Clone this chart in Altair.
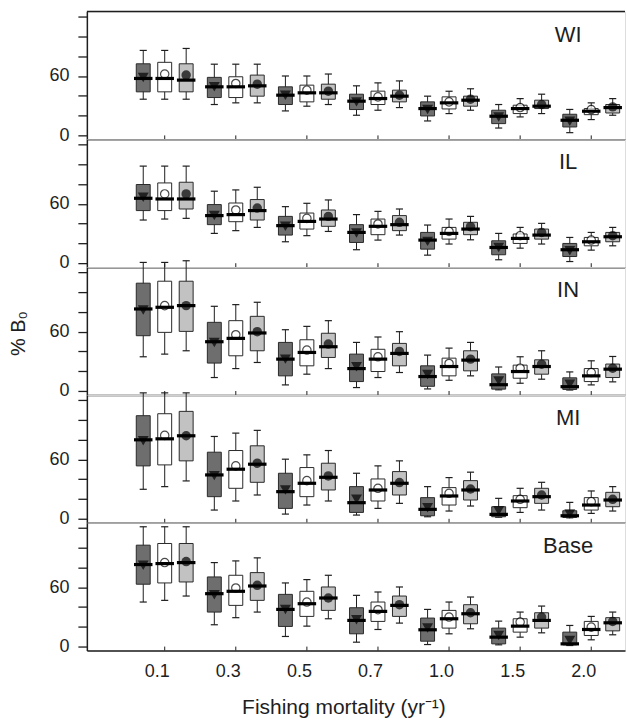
import altair as alt
import pandas as pd

PANELS = ["WI", "IL", "IN", "MI", "Base"]
F_LABELS = ["0.1", "0.3", "0.5", "0.7", "1.0", "1.5", "2.0"]
SERIES = ["dark", "open", "light"]
X_TITLE = "Fishing mortality (yr\u207b\u00b9)"
Y_TITLE = "% B\u2080"

# values per panel: 7 mortality groups x 3 series (dark, open, light)
WI_HIGH = [86, 86, 88, 72, 72, 72, 60, 60, 62, 50, 53, 55, 39.5, 44.5, 47, 31, 37, 41.5, 26, 32.7, 37]
WI_Q3 = [72.4, 73.9, 72.4, 58.6, 59.2, 60.9, 49, 50.7, 51.7, 41.5, 44.6, 45.6, 33.7, 38.8, 39.5, 25.2, 30.3, 35.4, 21.1, 26.9, 31]
WI_MED = [57.5, 57.5, 55.8, 49, 49, 50, 40.5, 42.9, 42.9, 34.4, 37.1, 39.5, 26.9, 32.7, 35.4, 19.1, 26.9, 29.3, 15, 24.2, 27.9]
WI_Q1 = [43.9, 43.9, 43.9, 38.1, 38.1, 39.5, 31, 33.7, 36.4, 25.9, 31, 33.7, 19.4, 26.5, 29.3, 11.6, 21.8, 26.9, 8.2, 20.7, 22.4]
WI_LOW = [36.4, 36.4, 36.4, 31, 32.7, 32.7, 24.5, 29.3, 31, 20.1, 25.2, 27.9, 14.3, 21.8, 25.2, 7.1, 18.4, 21.8, 2.4, 15.7, 20.1]
WI_MEAN = [58.5, 62, 60.9, 49, 52.4, 51.7, 40.5, 45.6, 44.6, 33.7, 38.8, 40.5, 25.9, 33.7, 36.4, 18.4, 27.9, 31, 14, 25.9, 28.6]

IL_HIGH = [98.3, 98.3, 98.3, 72.8, 74.1, 76.8, 57.1, 60.5, 63.9, 49, 52.3, 54.7, 38.4, 44.5, 47.2, 29.9, 36, 40.1, 25.8, 30.9, 36]
IL_Q3 = [79.6, 81.2, 81.9, 59.2, 60.8, 64.3, 47.2, 50.6, 53.7, 38.8, 44.5, 48, 30.9, 36, 41.2, 22.4, 29.3, 34.3, 19.7, 25.8, 30.9]
IL_MED = [65.6, 64.9, 64.9, 48, 49, 53.1, 37.8, 42.1, 44.5, 30.9, 37.1, 38.8, 23.1, 29.9, 34.3, 15.6, 24.8, 28.2, 13.3, 21.4, 26.5]
IL_Q1 = [53.1, 53.1, 54.7, 38.8, 41.8, 43.5, 28.2, 34.3, 37.1, 20.7, 28.6, 32.7, 13.9, 24.1, 28.6, 8.2, 19.7, 24.1, 6.4, 17.3, 21.4]
IL_LOW = [43.5, 44.5, 45.2, 29.9, 32.7, 36, 21.4, 27.6, 31.9, 13.3, 23.1, 28.2, 7.8, 19.1, 23.4, 3.1, 14.9, 19.1, 1.3, 12.9, 17.3]
IL_MEAN = [66.6, 70, 70, 48, 53.7, 55.7, 37.1, 45.2, 47.2, 30.3, 39.5, 41.2, 21.8, 31.9, 36.7, 15.6, 27.6, 30.9, 12.2, 23.1, 27.6]

IN_HIGH = [130.3, 130.3, 132, 85.7, 87.4, 89.8, 61.9, 65.3, 71.1, 49, 54.5, 59.9, 36.1, 43.2, 49, 24, 34.4, 40.5, 19, 30.3, 34.7]
IN_Q3 = [109.2, 111.2, 111.2, 69.4, 71.1, 75.5, 49, 51.7, 58.3, 37.1, 42, 48, 25.2, 33, 40.5, 17, 25.9, 31.3, 13, 22.4, 27]
IN_MED = [83, 84.7, 86.4, 49.7, 53.1, 58.6, 32, 38.8, 44.6, 22.4, 32, 37.8, 14.3, 24.5, 31, 6, 19.4, 24.5, 4, 15, 21.8]
IN_Q1 = [55.8, 59.2, 60.2, 28, 35.4, 40.5, 15, 25.2, 33.7, 9.2, 19.4, 25.2, 4.4, 15, 20.1, 1.5, 12.6, 16.7, 1.2, 9.2, 13.3]
IN_LOW = [34.4, 37.1, 40.5, 13.3, 22.4, 28.6, 5.8, 16.7, 22.4, 3.1, 13.3, 18.4, 1.7, 10.5, 15, 0.8, 7.5, 11.6, 0.6, 5.8, 8.9]
IN_MEAN = [82, 86.4, 86.4, 49, 56.8, 59.9, 32, 41.2, 47.3, 24.2, 34.4, 39.8, 16.4, 27.6, 32, 9.9, 22.8, 26.9, 6.5, 18.4, 22.8]

MI_HIGH = [127.6, 127.6, 127.6, 83.3, 86.7, 89.5, 60.2, 64.6, 69, 45.9, 53.4, 58.5, 32.3, 41.5, 47, 20.4, 30.6, 36.7, 16.3, 27.9, 32.3]
MI_Q3 = [104.4, 106.4, 108.8, 67.3, 69, 73.8, 45.9, 51.7, 56.1, 32.3, 40.1, 47.6, 21.1, 31.3, 38.4, 11.9, 23.1, 30.6, 7.8, 21.1, 26.5]
MI_MED = [79.9, 80.9, 84, 44.2, 50, 55.1, 27.2, 35.7, 41.8, 16, 28.9, 35.7, 9.2, 22.8, 28.9, 4.1, 17.7, 22.1, 2.7, 13.6, 18.7]
MI_Q1 = [53.4, 54.4, 58.5, 22.1, 30.6, 36.7, 10.2, 22.1, 28.9, 6.1, 17.7, 23.8, 2.7, 13.6, 18.7, 1.7, 10.9, 15.3, 1, 8.5, 11.9]
MI_LOW = [29.6, 32.3, 38.1, 8.5, 17.7, 23.8, 4.4, 13.6, 17.7, 3.4, 10.2, 15.3, 1.7, 7.5, 12.6, 1.2, 6.1, 8.5, 0.6, 5.1, 7.5]
MI_MEAN = [78.9, 84.4, 84, 43.5, 53.4, 56.1, 28.9, 38.4, 43.2, 19.4, 30.6, 36.4, 10.9, 25.5, 29.9, 7.8, 19.4, 23.8, 4.4, 17, 19.4]

BASE_HIGH = [121.4, 121.4, 121.4, 85, 86.7, 89.8, 64.3, 67.7, 72.1, 51.7, 55.1, 60.2, 37.4, 44.9, 50, 25.5, 34.7, 40.8, 21.1, 30.3, 34.7]
BASE_Q3 = [102.7, 104.4, 104.4, 70.4, 72.1, 74.8, 52.7, 55.8, 60.2, 39.1, 44.9, 51, 28.6, 36.4, 42.2, 18.4, 27.9, 34, 14.3, 25.2, 29]
BASE_MED = [83, 84, 85, 53.4, 55.8, 61.2, 37.4, 43.2, 49, 26.2, 35.4, 41.5, 16.7, 27.9, 33, 9.2, 20.4, 26.2, 2.4, 17, 23.8]
BASE_Q1 = [63, 64.3, 65.3, 34.7, 41.5, 46.6, 20.1, 30.3, 36.4, 12.6, 25.2, 30.3, 5.1, 18.4, 22.8, 2.4, 14.3, 18.4, 1.4, 10.9, 15.6]
BASE_LOW = [44.9, 46.6, 51, 21.8, 29, 34.7, 9.9, 20.4, 27.9, 4.1, 17, 23.5, 1.7, 12.6, 17.7, 1.4, 9.2, 13.6, 0.7, 6.5, 11.6]
BASE_MEAN = [82.3, 85, 86, 52.4, 59.2, 61.9, 37.4, 44.9, 49, 26.9, 37.1, 42.2, 18.4, 29.6, 34, 10.9, 24.5, 29.6, 5.8, 19.4, 25.2]

DATA = {
    "WI": (WI_LOW, WI_Q1, WI_MED, WI_Q3, WI_HIGH, WI_MEAN),
    "IL": (IL_LOW, IL_Q1, IL_MED, IL_Q3, IL_HIGH, IL_MEAN),
    "IN": (IN_LOW, IN_Q1, IN_MED, IN_Q3, IN_HIGH, IN_MEAN),
    "MI": (MI_LOW, MI_Q1, MI_MED, MI_Q3, MI_HIGH, MI_MEAN),
    "Base": (BASE_LOW, BASE_Q1, BASE_MED, BASE_Q3, BASE_HIGH, BASE_MEAN),
}

rows = []
for p in PANELS:
    lo, q1, md, q3, hi, mn = DATA[p]
    for gi in range(len(F_LABELS)):
        for si, sname in enumerate(SERIES):
            k = gi * 3 + si
            rows.append(dict(panel=p, g=gi, s=si, series=sname, low=lo[k], q1=q1[k],
                             med=md[k], q3=q3[k], high=hi[k], mean=mn[k]))
df = pd.DataFrame(rows)

XMIN, XMAX = -1.095, 6.475
YMIN, YMAX = -4.4, 125.5
W, H = 539, 128
FONT = "Liberation Sans"
INK = "#1e1e1e"

XSCALE = alt.Scale(domain=[XMIN, XMAX], nice=False, zero=False)
YSCALE = alt.Scale(domain=[YMIN, YMAX], nice=False, zero=False)

label_expr_x = "[" + ",".join("'%s'" % s for s in F_LABELS) + "][datum.value]"


def panel_chart(p, idx):
    bottom = idx == len(PANELS) - 1
    xaxis_kw = dict(values=list(range(len(F_LABELS))), ticks=False, grid=False,
                    domain=True, domainColor=INK, domainWidth=1.5, labels=bottom)
    if bottom:
        xaxis_kw.update(labelExpr=label_expr_x, labelFontSize=18, labelColor=INK,
                        labelOffset=-8, labelPadding=12, tickSize=0,
                        title=X_TITLE, titleFontSize=21, titleFontWeight="normal",
                        titleColor=INK, titleX=257, titleY=46, titleAlign="center")
    else:
        xaxis_kw.update(title=None)
    xaxis = alt.Axis(**xaxis_kw)

    yaxis_kw = dict(values=[0, 20, 40, 60, 80, 100, 120],
                    labelExpr="datum.value == 0 || datum.value == 60 ? datum.label : ''",
                    tickSize=9, tickColor=INK, tickWidth=1.3, grid=False,
                    domainColor=INK, domainWidth=1.5, labelFontSize=18,
                    labelColor=INK, labelPadding=9)
    if p == "IN":
        yaxis_kw.update(title=Y_TITLE, titleFontSize=20, titleFontWeight="normal",
                        titleColor=INK, titleX=-68, titleY=66, titleAngle=270,
                        titleAlign="center", titleBaseline="middle")
    else:
        yaxis_kw.update(title=None)
    yaxis = alt.Axis(**yaxis_kw)

    def X(f):
        return alt.X(f, type="quantitative", scale=XSCALE, axis=xaxis)

    def Y(f):
        return alt.Y(f, type="quantitative", scale=YSCALE, axis=yaxis)

    base = (alt.Chart(df)
            .transform_filter(alt.datum.panel == p)
            .transform_calculate(
                xc="datum.g + (datum.s - 1) * 0.302",
            )
            .transform_calculate(
                xl="datum.xc - 0.098", xr="datum.xc + 0.098",
                cl="datum.xc - 0.05", cr="datum.xc + 0.05",
                ml="datum.xc - 0.13", mr="datum.xc + 0.13",
            ))

    whisk = base.mark_rule(color=INK, strokeWidth=1).encode(x=X("xc"), y=Y("low"), y2="high")
    cap_hi = base.mark_rule(color=INK, strokeWidth=1.2).encode(x=X("cl"), x2="cr", y=Y("high"))
    cap_lo = base.mark_rule(color=INK, strokeWidth=1.2).encode(x=X("cl"), x2="cr", y=Y("low"))
    box = base.mark_rect(stroke="#2a2a2a", strokeWidth=1).encode(
        x=X("xl"), x2="xr", y=Y("q1"), y2="q3",
        fill=alt.Fill("series:N", scale=alt.Scale(domain=SERIES,
                                                   range=["#6e6e6e", "#ffffff", "#c2c2c2"]),
                      legend=None))
    tri = base.transform_filter(alt.datum.series == "dark").mark_point(
        shape="triangle-down", filled=True, color="black", size=120).encode(x=X("xc"), y=Y("mean"))
    ocirc = base.transform_filter(alt.datum.series == "open").mark_point(
        shape="circle", filled=False, color="black", fill="white", strokeWidth=1.2,
        size=70).encode(x=X("xc"), y=Y("mean"))
    fcirc = base.transform_filter(alt.datum.series == "light").mark_point(
        shape="circle", filled=True, color="black", size=90).encode(x=X("xc"), y=Y("mean"))
    med = base.mark_rule(color="black", strokeWidth=3.2).encode(x=X("ml"), x2="mr", y=Y("med"))

    frame_df = pd.DataFrame({"x0": [XMIN], "x1": [XMAX], "yt": [YMAX]})
    top_line = alt.Chart(frame_df).mark_rule(color=INK, strokeWidth=1.5).encode(
        x=X("x0"), x2="x1", y=Y("yt"))

    tick_df = pd.DataFrame({"g": list(range(len(F_LABELS))), "y0": [YMIN] * len(F_LABELS),
                            "y1": [YMIN + 4.0] * len(F_LABELS)})
    inner_ticks = alt.Chart(tick_df).mark_rule(color=INK, strokeWidth=1).encode(
        x=X("g"), y=Y("y0"), y2="y1")

    lab = alt.Chart(pd.DataFrame({"label": [p]})).mark_text(
        fontSize=22, font=FONT, color=INK, align="center", baseline="alphabetic").encode(
        text="label:N", x=alt.value(482), y=alt.value(30))

    layers = [inner_ticks, whisk, cap_hi, cap_lo, box, tri, ocirc, fcirc, med, lab]
    if idx == 0:
        layers.append(top_line)
    return alt.layer(*layers).properties(width=W, height=H)


chart = alt.vconcat(*[panel_chart(p, i) for i, p in enumerate(PANELS)], spacing=0,
                    bounds="flush").properties(
    padding={"left": 8, "top": 9, "right": 0, "bottom": 0}
).configure_view(stroke=None).configure(font=FONT)

chart.save("out.html", embed_options={"renderer": "svg", "actions": False})
